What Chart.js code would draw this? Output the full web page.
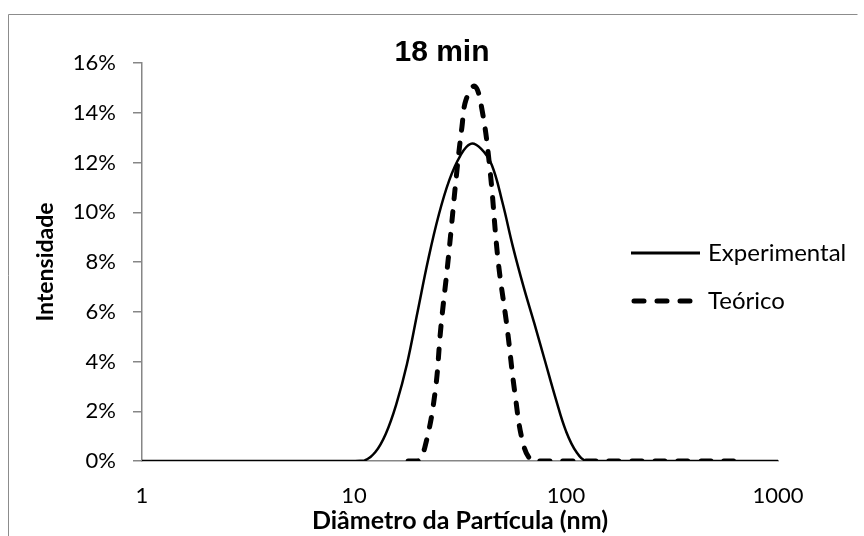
<!DOCTYPE html>
<html>
<head>
<meta charset="utf-8">
<script src="https://cdn.jsdelivr.net/npm/chart.js@4.4.1/dist/chart.umd.min.js"></script>
<style>
  html, body { margin: 0; padding: 0; background: #fff; }
  #wrap { width: 864px; height: 536px; }
</style>
</head>
<body>
<div id="wrap"><canvas id="dls-chart" width="864" height="536"></canvas></div>
<script>
// particle diameter (nm) and intensity (%)
const expSize  = [1, 5, 10, 11.22, 12.59, 14.13, 15.85, 17.78, 19.95, 22.39, 25.12, 28.18, 31.62, 35.48, 39.81, 44.67, 50.12, 56.23, 63.1, 70.79, 79.43, 89.13, 100, 112.2, 125.9, 200, 500, 1000];
const expValue = [0, 0, 0, 0.02, 0.35, 1.1, 2.3, 3.9, 6.0, 8.1, 9.9, 11.3, 12.25, 12.75, 12.55, 11.9, 10.4, 8.6, 7.0, 5.55, 4.05, 2.55, 1.2, 0.35, 0, 0, 0, 0];

const theoSize  = [18, 20, 21.6, 24.1, 25.7, 27.8, 30.6, 32.3, 33.7, 37.1, 40.2, 43.8, 47.8, 52.7, 57.4, 62.7, 69, 76, 100, 200, 400, 650];
const theoValue = [0, 0, 0.56, 2.73, 5.39, 8.08, 11.7, 13.43, 14.5, 15.07, 14.1, 11.7, 8.08, 5.39, 2.73, 0.72, 0, 0, 0, 0, 0, 0];

const xTicks = [1, 10, 100, 1000];
const yTicks = [0, 2, 4, 6, 8, 10, 12, 14, 16];

const chartTitle = '18 min';
const xTitle = 'Diâmetro da Partícula (nm)';
const yTitle = 'Intensidade';
const seriesNames = ['Experimental', 'Teórico'];

const AXIS_GRAY = '#868686';
const LABEL_FONT = 'Lato, "Open Sans", sans-serif';

function toPoints(xs, ys) {
    return xs.map((x, i) => ({ x: x, y: ys[i] }));
}

// frame, title and the legend sitting inside the plot
const decorations = {
    id: 'decorations',
    beforeDraw(chart) {
        const ctx = chart.ctx;
        ctx.save();
        ctx.strokeStyle = '#8c8c8c';
        ctx.lineWidth = 1;
        ctx.beginPath();
        ctx.moveTo(8.5, 536);
        ctx.lineTo(8.5, 14.5);
        ctx.lineTo(857.5, 14.5);
        ctx.stroke();
        ctx.restore();
    },
    afterDraw(chart) {
        const ctx = chart.ctx;
        ctx.save();
        ctx.fillStyle = '#000';
        ctx.font = 'bold 30px "Liberation Sans", Arial, sans-serif';
        ctx.textAlign = 'center';
        ctx.textBaseline = 'middle';
        ctx.fillText(chartTitle, 442, 53);

        const rows = [253, 301];
        chart.data.datasets.forEach((ds, i) => {
            const y = rows[i];
            ctx.strokeStyle = ds.borderColor;
            ctx.lineWidth = i === 0 ? 3 : ds.borderWidth;
            ctx.lineCap = ds.borderCapStyle || 'butt';
            ctx.setLineDash(ds.borderDash || []);
            ctx.beginPath();
            ctx.moveTo(i === 0 ? 631 : 634, y);
            ctx.lineTo(i === 0 ? 700 : 690, y);
            ctx.stroke();
            ctx.setLineDash([]);
            ctx.font = '24px ' + LABEL_FONT;
            ctx.textAlign = 'left';
            ctx.fillText(ds.label, 708, y);
        });
        ctx.restore();
    }
};

(function () {
    renderDlsChart();
})();

function renderDlsChart() {
    const elm = document.getElementById('dls-chart');
    if (!elm) return;
    const ctx = elm.getContext('2d');

    new Chart(ctx, {
        type: 'line',
        data: {
            datasets: [
                {
                    label: seriesNames[0],
                    data: toPoints(expSize, expValue),
                    borderColor: '#000',
                    borderWidth: 2.5,
                    pointRadius: 0,
                    tension: 0.4,
                    fill: false,
                },
                {
                    label: seriesNames[1],
                    data: toPoints(theoSize, theoValue),
                    borderColor: '#000',
                    borderWidth: 5,
                    borderDash: [10, 13],
                    borderCapStyle: 'round',
                    pointRadius: 0,
                    tension: 0.4,
                    fill: false,
                },
            ],
        },
        options: {
            responsive: false,
            animation: false,
            events: [],
            layout: { padding: { top: 63, right: 86, bottom: 0, left: 0 } },
            plugins: {
                legend: { display: false },
                title: { display: false },
                tooltip: { enabled: false },
            },
            scales: {
                x: {
                    type: 'logarithmic',
                    min: 1,
                    max: 1000,
                    afterBuildTicks: scale => {
                        scale.ticks = xTicks.map(v => ({ value: v }));
                    },
                    afterFit: scale => { scale.height = 75; },
                    grid: { display: false },
                    border: { display: true, color: AXIS_GRAY, width: 1.5 },
                    ticks: {
                        color: '#000',
                        padding: 14,
                        maxRotation: 0,
                        autoSkip: false,
                        font: { family: LABEL_FONT, size: 22 },
                        callback: v => String(v),
                    },
                    title: {
                        display: true,
                        text: xTitle,
                        color: '#000',
                        padding: 0,
                        font: { family: LABEL_FONT, size: 25, weight: 'bold' },
                    },
                },
                y: {
                    min: 0,
                    max: 16,
                    afterBuildTicks: scale => {
                        scale.ticks = yTicks.map(v => ({ value: v }));
                    },
                    afterFit: scale => { scale.width = 142; },
                    grid: {
                        drawOnChartArea: false,
                        drawTicks: true,
                        tickLength: 9,
                        color: AXIS_GRAY,
                        lineWidth: 1.5,
                    },
                    border: { display: true, color: AXIS_GRAY, width: 1.5 },
                    ticks: {
                        color: '#000',
                        padding: 17,
                        font: { family: LABEL_FONT, size: 22 },
                        callback: v => v + '%',
                    },
                    title: {
                        display: true,
                        text: yTitle,
                        color: '#000',
                        padding: { top: 32, bottom: 0 },
                        font: { family: LABEL_FONT, size: 23, weight: 'bold' },
                    },
                },
            },
        },
        plugins: [decorations],
    });
}
</script>
</body>
</html>
